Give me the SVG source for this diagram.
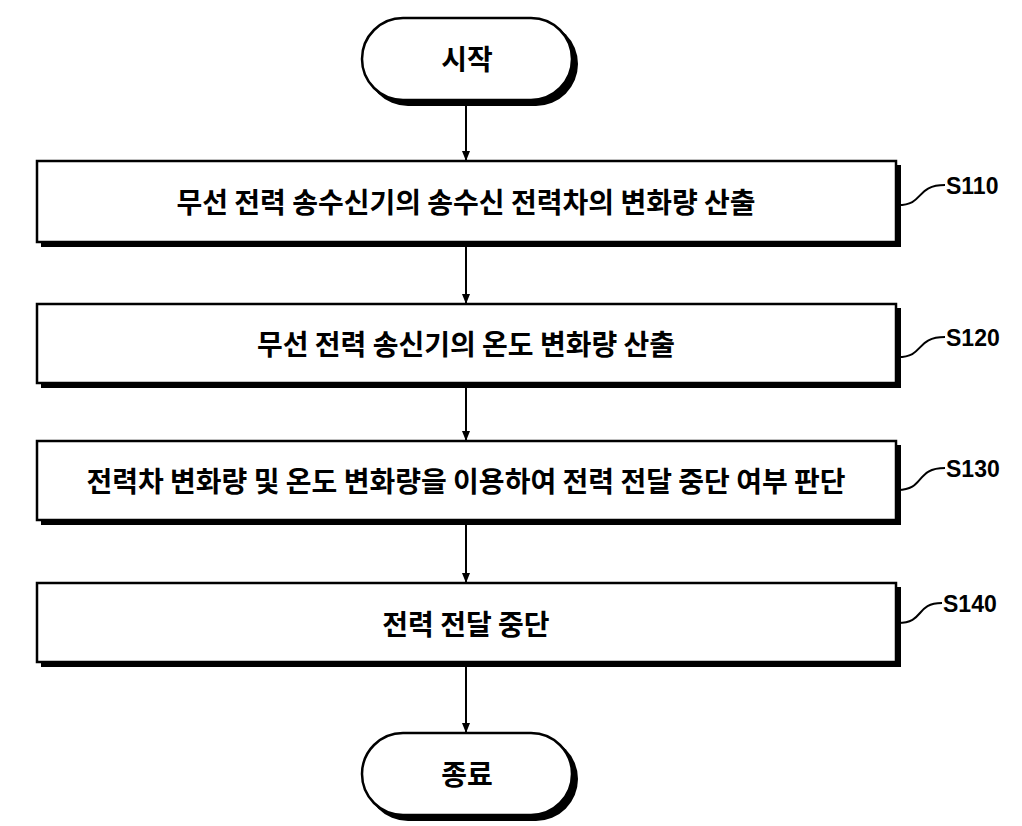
<svg xmlns="http://www.w3.org/2000/svg" width="1022" height="826" viewBox="0 0 1022 826">
<style>
.sh{fill:#000}
.bx{fill:#fff;stroke:#000;stroke-width:2.5}
.t{font-family:"Noto Sans CJK KR","Liberation Sans",sans-serif;font-weight:bold;font-size:28px;text-anchor:middle;fill:#000}
.l{font-family:"Liberation Sans",sans-serif;font-weight:bold;font-size:23px;fill:#000}
.c{fill:none;stroke:#000;stroke-width:2}
</style>
<defs><marker id="a" markerWidth="10" markerHeight="10" refX="9" refY="5" orient="auto" markerUnits="userSpaceOnUse"><path d="M0,1 L10,5 L0,9z" fill="#000"/></marker></defs>
<g id="start"><rect class="sh" x="366" y="22" width="212" height="84" rx="42"/><rect class="bx" x="362" y="18" width="210" height="82" rx="41"/><text class="t" x="467" y="70">시작</text></g>
<g id="s110"><rect class="sh" x="41" y="165" width="860" height="82"/><rect class="bx" x="37" y="161" width="859" height="81"/><text class="t" x="466" y="213">무선 전력 송수신기의 송수신 전력차의 변화량 산출</text><path class="c" d="M898,205 C925,205 915,185 945,185"/><text class="l" x="946" y="194">S110</text></g>
<g id="s120"><rect class="sh" x="41" y="308" width="860" height="80"/><rect class="bx" x="37" y="304" width="859" height="79"/><text class="t" x="466" y="355">무선 전력 송신기의 온도 변화량 산출</text><path class="c" d="M898,357 C925,357 915,337 945,337"/><text class="l" x="946" y="346">S120</text></g>
<g id="s130"><rect class="sh" x="41" y="445" width="860" height="80"/><rect class="bx" x="37" y="441" width="859" height="79"/><text class="t" x="466" y="492">전력차 변화량 및 온도 변화량을 이용하여 전력 전달 중단 여부 판단</text><path class="c" d="M898,490 C925,490 915,468 945,468"/><text class="l" x="946" y="477">S130</text></g>
<g id="s140"><rect class="sh" x="41" y="587" width="860" height="80"/><rect class="bx" x="37" y="583" width="859" height="79"/><text class="t" x="466" y="635">전력 전달 중단</text><path class="c" d="M898,623 C925,623 915,603 942,603"/><text class="l" x="943" y="612">S140</text></g>
<g id="end"><rect class="sh" x="366" y="737" width="212" height="84" rx="42"/><rect class="bx" x="362" y="733" width="210" height="82" rx="41"/><text class="t" x="467" y="785">종료</text></g>
<g id="connectors">
<line class="c" x1="466" y1="103" x2="466" y2="160" marker-end="url(#a)"/>
<line class="c" x1="466" y1="247" x2="466" y2="303" marker-end="url(#a)"/>
<line class="c" x1="466" y1="388" x2="466" y2="440" marker-end="url(#a)"/>
<line class="c" x1="466" y1="525" x2="466" y2="582" marker-end="url(#a)"/>
<line class="c" x1="466" y1="667" x2="466" y2="732" marker-end="url(#a)"/>
</g>
</svg>
